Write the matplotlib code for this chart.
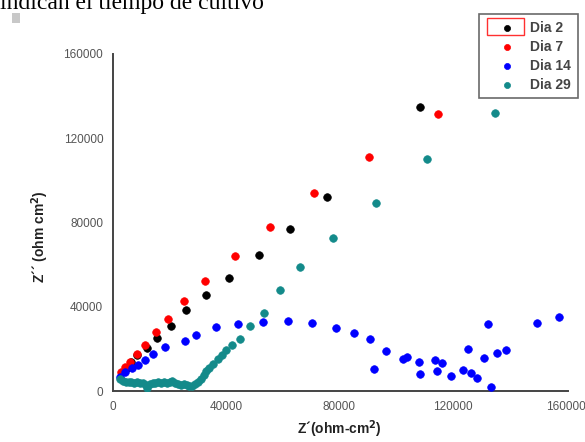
import matplotlib
matplotlib.use("Agg")
import matplotlib.pyplot as plt
from matplotlib.patches import Rectangle

# Nyquist data (Z' and -Z'' in ohm cm2)
dia2_x = [5000, 6500, 8400, 11900, 15700, 20400, 25800, 32700, 41000, 51600, 62500, 75500, 108500]
dia2_y = [11000, 14000, 17000, 20600, 25000, 30900, 38500, 45400, 53500, 64600, 77000, 92300, 134900]

dia7_x = [2700, 4200, 6000, 8600, 11300, 15200, 19300, 25200, 32400, 43100, 55500, 71000, 90600, 114800]
dia7_y = [9200, 11500, 13900, 17600, 21800, 27900, 34200, 42800, 52100, 64100, 78000, 93900, 111300, 131500]

dia14_x = [2500, 4200, 6600, 8700, 11300, 14200, 18400, 25400, 29300, 36400, 44300, 53100,
           62000, 70200, 78700, 85300, 90800, 92200, 96500, 102600, 104000, 108100, 108500,
           113800, 114600, 116400, 119300, 123800, 125300, 126400, 128700, 131200, 132600,
           133600, 135600, 138900, 149700, 157600]
dia14_y = [6800, 8900, 10800, 12300, 14700, 17600, 20700, 23900, 26600, 30200, 31800, 32900,
           33400, 32100, 29800, 27400, 24700, 10400, 19100, 15000, 16000, 13900, 8100,
           14700, 9600, 13100, 7100, 10000, 19800, 8400, 6000, 15800, 31800,
           2000, 18200, 19500, 32400, 35000]

dia29_x = [2500, 3500, 4500, 5500, 6500, 7500, 8500, 9500, 10500, 11500, 12000, 13000, 14000,
           15000, 16000, 17000, 18000, 19000, 20000, 21000, 22000, 23000, 24000, 25000, 26000,
           27000, 28000, 29000, 30000, 31000, 32000, 33000, 34000, 35500, 37000, 38500, 40000,
           42000, 45000, 48500, 53500, 59000, 66100, 77600, 92800, 110800, 135000]
dia29_y = [5500, 4800, 4500, 4300, 4400, 4000, 4200, 3800, 3900, 3000, 1200, 3500, 3900,
           3600, 4200, 4000, 4400, 3800, 4100, 4600, 3900, 3400, 3000, 3500, 2800,
           2400, 2600, 3100, 4200, 5800, 7500, 9300, 11000, 13000, 15000, 17000, 19500,
           22000, 24700, 30900, 36900, 48000, 59000, 72500, 89400, 110000, 132000]

series = [
    ("Dia 2", dia2_x, dia2_y, "#000000"),
    ("Dia 7", dia7_x, dia7_y, "#ff0000"),
    ("Dia 14", dia14_x, dia14_y, "#0000ff"),
    ("Dia 29", dia29_x, dia29_y, "#138a8a"),
]

W, H = 585, 442
fig = plt.figure(figsize=(W / 100, H / 100), dpi=100)
ax = fig.add_axes([113 / W, 1 - 391 / H, (568 - 113) / W, (391 - 54) / H])

for label, xs, ys, color in series:
    ax.scatter(xs, ys, s=30, color=color, edgecolors=color, linewidths=0.5, label=label, zorder=3)

ax.set_xlim(0, 160800)
ax.set_ylim(0, 160000)
ax.set_xticks([0, 40000, 80000, 120000, 160000])
ax.set_yticks([0, 40000, 80000, 120000, 160000])
ax.tick_params(length=0, labelsize=8.5, labelcolor="#555555", pad=7,
               labelfontfamily="Liberation Sans")

for side in ["top", "right"]:
    ax.spines[side].set_visible(False)
for side in ["left", "bottom"]:
    ax.spines[side].set_color("#444444")
    ax.spines[side].set_linewidth(1.4)

ax.set_xlabel("Z\u00b4(ohm-cm$^{\\mathbf{2}}$)", fontsize=10, fontweight="bold",
              family="Liberation Sans", color="#222222", va="center")
ax.set_ylabel("Z\u00b4\u00b4 (ohm cm$^{\\mathbf{2}}$)", fontsize=10, fontweight="bold",
              family="Liberation Sans", color="#222222", va="center")
ax.xaxis.set_label_coords((339 - 113) / (568 - 113), -(429 - 391) / (391 - 54))
ax.yaxis.set_label_coords(-(113 - 40) / (568 - 113), (391 - 237) / (391 - 54))

# legend box sits above the top right corner of the axes
leg = ax.legend(loc="upper left", bbox_to_anchor=(479 / W, 1 - 14 / H),
                bbox_transform=fig.transFigure, fancybox=False, frameon=True,
                prop={"family": "Liberation Sans", "size": 10, "weight": "bold"},
                labelspacing=0.35, handlelength=3.0, handletextpad=0.15,
                borderpad=0.5, borderaxespad=0, scatterpoints=1, markerscale=0.8)
leg.get_frame().set_edgecolor("#444444")
leg.get_frame().set_linewidth(1.2)
for t in leg.get_texts():
    t.set_color("#444444")

# red selection box around the first legend marker
fig.patches.append(Rectangle((487 / W, 1 - 35 / H), 37 / W, 17 / H, transform=fig.transFigure,
                             fill=False, edgecolor="#ff3030", linewidth=1.0))

# bits of the surrounding document (the caption line is cut at the top in the source)
fig.text(0, 1 - 9 / H, "indican el tiempo de cultivo", family="Liberation Serif",
         fontsize=17, va="baseline", ha="left", color="#000000")
fig.patches.append(Rectangle((12 / W, 1 - 23 / H), 8 / W, 10 / H, transform=fig.transFigure,
                             facecolor="#c8c8c8", edgecolor="none"))

fig.savefig("out.png", dpi=100)
